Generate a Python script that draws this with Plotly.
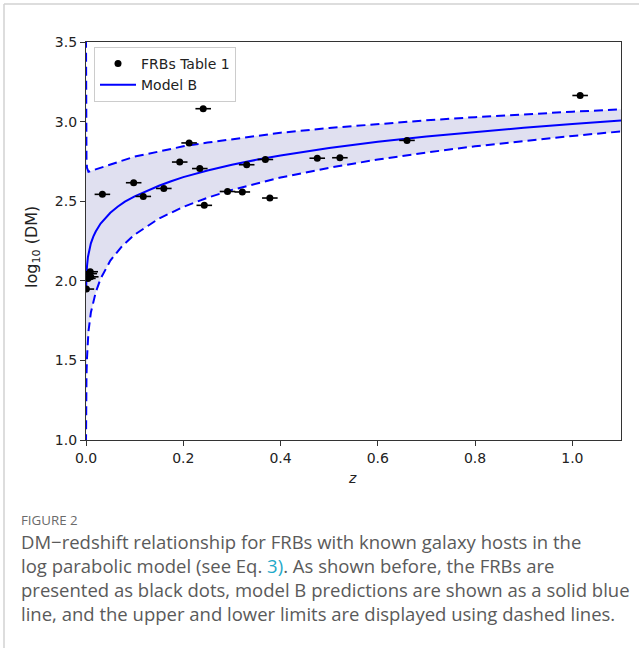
import plotly.graph_objects as go

# ---------------- data ----------------
# FRBs with known hosts (redshift, log10 DM, redshift error)
frb_z = [0.0008, 0.0039, 0.0068, 0.0087, 0.0098, 0.0337, 0.098, 0.1178, 0.16,
         0.1927, 0.212, 0.234, 0.241, 0.2432, 0.291, 0.3214, 0.3304, 0.3688,
         0.378, 0.4755, 0.522, 0.66, 1.016]
frb_logdm = [1.948, 2.015, 2.045, 2.057, 2.025, 2.543, 2.616, 2.530, 2.580,
             2.746, 2.866, 2.705, 3.081, 2.474, 2.561, 2.558, 2.729, 2.762,
             2.520, 2.770, 2.773, 2.882, 3.164]
frb_zerr = [0.016, 0.016, 0.016, 0.016, 0.016, 0.016, 0.016, 0.016, 0.016,
            0.016, 0.016, 0.016, 0.016, 0.016, 0.016, 0.016, 0.016, 0.016,
            0.016, 0.016, 0.016, 0.016, 0.016]

# Model B (log parabolic) curve
model_z = [0.0001, 0.0003, 0.0006, 0.001, 0.002, 0.004, 0.007, 0.01, 0.015, 0.02,
           0.03, 0.04, 0.05, 0.065, 0.08, 0.1, 0.125, 0.15, 0.175, 0.2, 0.25,
           0.3, 0.35, 0.4, 0.5, 0.6, 0.7, 0.8, 0.9, 1.0, 1.1]
model_logdm = [1.95, 1.97, 2.00, 2.04, 2.09, 2.15, 2.20, 2.235, 2.278, 2.31,
               2.36, 2.397, 2.427, 2.465, 2.497, 2.53, 2.566, 2.597, 2.625, 2.651,
               2.693, 2.729, 2.76, 2.787, 2.834, 2.873, 2.906, 2.935, 2.961,
               2.985, 3.007]

# Upper limit curve
upper_z = [0.00001, 0.0001, 0.0003, 0.001, 0.002, 0.005, 0.01, 0.02, 0.03, 0.05,
           0.075, 0.1, 0.15, 0.2, 0.25, 0.3, 0.4, 0.5, 0.6, 0.7, 0.8, 0.9, 1.0, 1.1]
upper_logdm = [3.52, 3.06, 2.91, 2.76, 2.71, 2.685, 2.69, 2.70, 2.71, 2.73,
               2.755, 2.78, 2.812, 2.845, 2.868, 2.89, 2.93, 2.96, 2.986, 3.008,
               3.028, 3.046, 3.062, 3.077]

# Lower limit curve
lower_z = [0.00001, 0.0001, 0.0003, 0.0006, 0.001, 0.002, 0.005, 0.01, 0.02, 0.03,
           0.05, 0.075, 0.1, 0.15, 0.2, 0.25, 0.3, 0.4, 0.5, 0.6, 0.7, 0.8, 0.9,
           1.0, 1.1]
lower_logdm = [0.98, 1.15, 1.26, 1.342, 1.41, 1.512, 1.68, 1.80, 1.928, 2.013,
               2.127, 2.221, 2.29, 2.391, 2.464, 2.522, 2.571, 2.649, 2.71,
               2.762, 2.806, 2.845, 2.879, 2.91, 2.938]

x_ticks = [0.0, 0.2, 0.4, 0.6, 0.8, 1.0]
x_tick_labels = ["0.0", "0.2", "0.4", "0.6", "0.8", "1.0"]
y_ticks = [1.0, 1.5, 2.0, 2.5, 3.0, 3.5]
y_tick_labels = ["1.0", "1.5", "2.0", "2.5", "3.0", "3.5"]

caption_title = "FIGURE 2"
caption_lines = [
    "DM\u2212redshift relationship for FRBs with known galaxy hosts in the",
    "log parabolic model (see Eq. <span style='color:#1fa9c9'>3)</span>. As shown before, the FRBs are",
    "presented as black dots, model B predictions are shown as a solid blue",
    "line, and the upper and lower limits are displayed using dashed lines.",
]

# ---------------- layout geometry (pixels) ----------------
W, H = 639, 648
L, R, T, B = 86, 621, 42, 440
pw, ph = R - L, B - T


def px(x):
    return (x - L) / pw


def py(y):
    return (B - y) / ph


fig = go.Figure()

fig.add_trace(go.Scatter(
    x=lower_z, y=lower_logdm, mode="lines",
    line=dict(color="#0000ff", width=2, dash="9px,5px"),
    showlegend=False, hoverinfo="skip"))
fig.add_trace(go.Scatter(
    x=upper_z, y=upper_logdm, mode="lines",
    line=dict(color="#0000ff", width=2, dash="9px,5px"),
    fill="tonexty", fillcolor="rgba(0,0,128,0.12)",
    showlegend=False, hoverinfo="skip"))
fig.add_trace(go.Scatter(
    x=model_z, y=model_logdm, mode="lines",
    line=dict(color="#0000ff", width=2), name="Model B"))
fig.add_trace(go.Scatter(
    x=frb_z, y=frb_logdm, mode="markers", name="FRBs Table 1",
    marker=dict(color="black", size=7),
    error_x=dict(type="data", array=frb_zerr, color="black", thickness=1.6, width=0)))

axis_common = dict(
    showline=True, linecolor="#333333", linewidth=1.3, mirror=True,
    ticks="outside", ticklen=5, tickwidth=1.2, tickcolor="#333333",
    showgrid=False, zeroline=False, layer="below traces",
    tickfont=dict(family="DejaVu Sans", size=14, color="#222222"),
)

fig.update_xaxes(range=[0, 1.1], tickvals=x_ticks, ticktext=x_tick_labels, **axis_common)
fig.update_yaxes(range=[1.0, 3.5], tickvals=y_ticks, ticktext=y_tick_labels, **axis_common)

annotations = [
    dict(x=px(352), y=py(478), xref="paper", yref="paper", text="<i>z</i>",
         showarrow=False, font=dict(family="DejaVu Sans", size=14, color="#222222"),
         xanchor="center", yanchor="middle"),
    dict(x=px(33), y=py(247), xref="paper", yref="paper",
         text="log<sub>10</sub> (DM)", textangle=-90,
         showarrow=False, font=dict(family="DejaVu Sans", size=16, color="#222222"),
         xanchor="center", yanchor="middle"),
    dict(x=px(19), y=py(520), xref="paper", yref="paper", text=caption_title,
         showarrow=False, font=dict(family="Open Sans", size=13.3, color="#6a6a6a"),
         xanchor="left", yanchor="middle"),
]
line_y = [541, 565, 589, 613]
for txt, yy in zip(caption_lines, line_y):
    annotations.append(dict(
        x=px(19), y=py(yy), xref="paper", yref="paper", text=txt,
        showarrow=False, font=dict(family="Open Sans", size=18.5, color="#5a5a5a"),
        xanchor="left", yanchor="middle", align="left"))

shapes = [
    dict(type="line", xref="paper", yref="paper", x0=px(4), x1=px(645), y0=py(4), y1=py(4),
         line=dict(color="#d2d2d2", width=1.5)),
    dict(type="line", xref="paper", yref="paper", x0=px(4), x1=px(4), y0=py(4), y1=py(660),
         line=dict(color="#d2d2d2", width=1.5)),
]

fig.update_layout(
    width=W, height=H,
    margin=dict(l=L, r=W - R, t=T, b=H - B, pad=0),
    paper_bgcolor="white", plot_bgcolor="white",
    showlegend=True,
    legend=dict(x=px(94), y=py(47), xanchor="left", yanchor="top",
                bgcolor="rgba(255,255,255,0.85)", bordercolor="#cccccc", borderwidth=1,
                font=dict(family="DejaVu Sans", size=14, color="#222222"),
                traceorder="reversed", itemwidth=36),
    annotations=annotations,
    shapes=shapes,
)

fig.write_html("out.html", config={"displayModeBar": False},
               post_script="document.body.style.margin='0';document.body.style.overflow='hidden';")
